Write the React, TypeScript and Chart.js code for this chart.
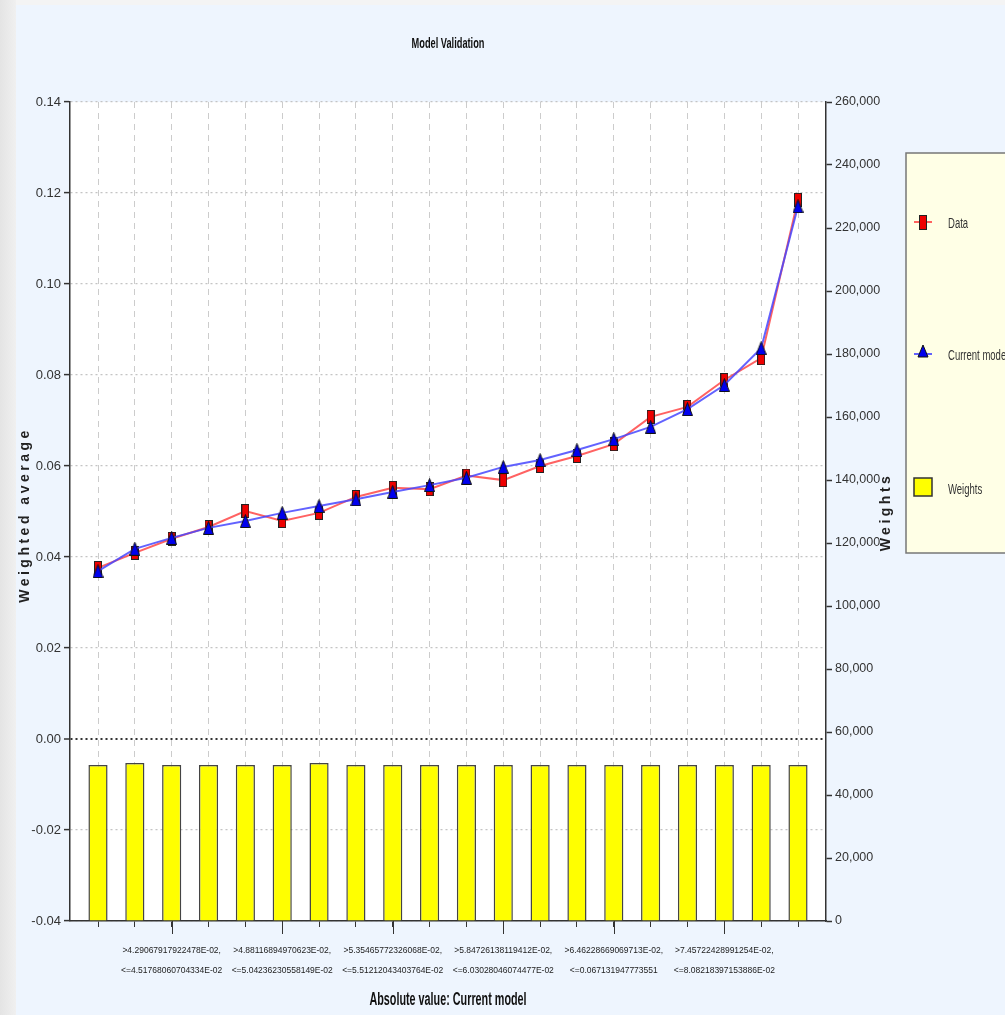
import React, { useEffect, useRef } from 'react';
import { Chart, registerables } from 'chart.js';

Chart.register(...registerables);

// ---------- data ----------
const CATEGORY_INDEX = [0, 1, 2, 3, 4, 5, 6, 7, 8, 9, 10, 11, 12, 13, 14, 15, 16, 17, 18, 19];
const DATA_VALUES = [0.0376, 0.0409, 0.044, 0.0466, 0.0501, 0.0479, 0.0497, 0.0532, 0.0552, 0.0549, 0.0579, 0.0569, 0.06, 0.0622, 0.0648, 0.0708, 0.073, 0.0789, 0.0837, 0.1185];
const MODEL_VALUES = [0.0369, 0.0418, 0.0442, 0.0464, 0.0479, 0.0497, 0.0512, 0.0527, 0.0543, 0.0558, 0.0574, 0.0598, 0.0613, 0.0635, 0.0659, 0.0686, 0.0725, 0.0778, 0.0859, 0.1171];
const WEIGHT_VALUES = [49500, 50150, 49500, 49500, 49500, 49500, 50150, 49500, 49500, 49500, 49500, 49500, 49500, 49500, 49500, 49500, 49500, 49500, 49500, 49500];
const LABEL_POSITIONS = [2, 5, 8, 11, 14, 17];
const LABEL_LINE1 = ['>4.29067917922478E-02,', '>4.88116894970623E-02,', '>5.35465772326068E-02,', '>5.84726138119412E-02,', '>6.46228669069713E-02,', '>7.45722428991254E-02,'];
const LABEL_LINE2 = ['<=4.51768060704334E-02', '<=5.04236230558149E-02', '<=5.51212043403764E-02', '<=6.03028046074477E-02', '<=0.067131947773551', '<=8.08218397153886E-02'];
const LEFT_MIN = -0.04;
const LEFT_MAX = 0.14;
const LEFT_STEP = 0.02;
const RIGHT_MIN = 0;
const RIGHT_MAX = 260000;
const RIGHT_STEP = 20000;
const SERIES_NAMES = ['Data', 'Current model', 'Weights'];
const TITLE = 'Model Validation';
const X_TITLE = 'Absolute value: Current model';
const Y_TITLE = 'Weighted average';
const Y2_TITLE = 'Weights';

const SANS = '"Liberation Sans", Arial, sans-serif';

function makeRectPoint(): HTMLCanvasElement {
  const c = document.createElement('canvas');
  c.width = 8;
  c.height = 14;
  const g = c.getContext('2d')!;
  g.fillStyle = '#ee0000';
  g.fillRect(0.5, 0.5, 7, 13);
  g.strokeStyle = '#222';
  g.lineWidth = 1;
  g.strokeRect(0.5, 0.5, 7, 13);
  return c;
}

function makeTriPoint(): HTMLCanvasElement {
  const c = document.createElement('canvas');
  c.width = 11;
  c.height = 14;
  const g = c.getContext('2d')!;
  g.beginPath();
  g.moveTo(5.5, 0.5);
  g.lineTo(10.5, 13.5);
  g.lineTo(0.5, 13.5);
  g.closePath();
  g.fillStyle = '#0000ee';
  g.fill();
  g.strokeStyle = '#111';
  g.lineWidth = 1;
  g.stroke();
  return c;
}

function narrowText(ctx: CanvasRenderingContext2D, text: string, x: number, y: number, sx: number, align: CanvasTextAlign) {
  ctx.save();
  ctx.translate(x, y);
  ctx.scale(sx, 1);
  ctx.textAlign = align;
  ctx.textBaseline = 'middle';
  ctx.fillText(text, 0, 0);
  ctx.restore();
}

const decorPlugin = {
  id: 'decor',
  beforeDraw(chart: any) {
    const { ctx, width, height, chartArea } = chart;
    ctx.save();
    ctx.fillStyle = '#eef5fe';
    ctx.fillRect(0, 0, width, height);
    const grad = ctx.createLinearGradient(0, 0, 16, 0);
    grad.addColorStop(0, '#e4e4e4');
    grad.addColorStop(1, '#f0f0f0');
    ctx.fillStyle = grad;
    ctx.fillRect(0, 0, 16, height);
    ctx.fillStyle = '#f4f4f4';
    ctx.fillRect(16, 0, width - 16, 5);
    ctx.fillStyle = '#ffffff';
    ctx.fillRect(chartArea.left, chartArea.top, chartArea.right - chartArea.left, chartArea.bottom - chartArea.top);
    ctx.restore();
  },
  afterDraw(chart: any) {
    const { ctx, chartArea, scales } = chart;
    ctx.save();
    // long ticks at labelled categories
    ctx.strokeStyle = '#333';
    ctx.lineWidth = 1;
    LABEL_POSITIONS.forEach((p) => {
      const x = Math.round(scales.x.getPixelForValue(p)) + 0.5;
      ctx.beginPath();
      ctx.moveTo(x, chartArea.bottom);
      ctx.lineTo(x, chartArea.bottom + 13);
      ctx.stroke();
    });
    // titles
    ctx.fillStyle = '#111';
    ctx.font = `bold 14px ${SANS}`;
    narrowText(ctx, TITLE, 448, 44, 0.66, 'center');
    ctx.font = `bold 18px ${SANS}`;
    narrowText(ctx, X_TITLE, 448, 1000, 0.6, 'center');
    ctx.font = `bold 14px ${SANS}`;
    ctx.textAlign = 'center';
    ctx.textBaseline = 'middle';
    (ctx as any).letterSpacing = '3.5px';
    ctx.save();
    ctx.translate(25, 515);
    ctx.rotate(-Math.PI / 2);
    ctx.fillStyle = '#222';
    ctx.fillText(Y_TITLE, 0, 0);
    ctx.restore();
    ctx.save();
    ctx.translate(886, 512);
    ctx.rotate(-Math.PI / 2);
    ctx.fillStyle = '#222';
    ctx.fillText(Y2_TITLE, 0, 0);
    ctx.restore();
    (ctx as any).letterSpacing = '0px';
    // legend
    ctx.fillStyle = '#ffffe6';
    ctx.fillRect(906, 153, 110, 400);
    ctx.strokeStyle = '#777';
    ctx.lineWidth = 1.5;
    ctx.strokeRect(906, 153, 110, 400);
    // Data item
    ctx.strokeStyle = 'rgba(255,70,70,0.85)';
    ctx.lineWidth = 2;
    ctx.beginPath();
    ctx.moveTo(914, 222);
    ctx.lineTo(932, 222);
    ctx.stroke();
    ctx.fillStyle = '#ee0000';
    ctx.fillRect(919, 215, 7, 14);
    ctx.strokeStyle = '#222';
    ctx.lineWidth = 1;
    ctx.strokeRect(919.5, 215.5, 7, 14);
    // Current model item
    ctx.strokeStyle = 'rgba(70,70,255,0.85)';
    ctx.lineWidth = 2;
    ctx.beginPath();
    ctx.moveTo(914, 354);
    ctx.lineTo(932, 354);
    ctx.stroke();
    ctx.beginPath();
    ctx.moveTo(923, 345);
    ctx.lineTo(928, 357);
    ctx.lineTo(918, 357);
    ctx.closePath();
    ctx.fillStyle = '#0000ee';
    ctx.fill();
    ctx.strokeStyle = '#111';
    ctx.lineWidth = 1;
    ctx.stroke();
    // Weights item
    ctx.fillStyle = '#ffff00';
    ctx.fillRect(914, 478, 18, 18);
    ctx.strokeStyle = '#333';
    ctx.lineWidth = 1.5;
    ctx.strokeRect(914, 478, 18, 18);
    ctx.fillStyle = '#333';
    ctx.font = `14px ${SANS}`;
    narrowText(ctx, SERIES_NAMES[0], 948, 224, 0.68, 'left');
    narrowText(ctx, SERIES_NAMES[1], 948, 356, 0.68, 'left');
    narrowText(ctx, SERIES_NAMES[2], 948, 490, 0.68, 'left');
    ctx.restore();
  },
};

export default function App() {
  const ref = useRef<HTMLCanvasElement | null>(null);

  useEffect(() => {
    document.body.style.margin = '0';
    document.body.style.overflow = 'hidden';
    const canvas = ref.current;
    if (!canvas) return;
    const rectPt = makeRectPoint();
    const triPt = makeTriPoint();

    const chart = new Chart(canvas, {
      type: 'bar',
      data: {
        datasets: [
          {
            type: 'line',
            label: SERIES_NAMES[1],
            data: CATEGORY_INDEX.map((i) => ({ x: i, y: MODEL_VALUES[i] })),
            yAxisID: 'y',
            xAxisID: 'x',
            borderColor: 'rgba(70,70,255,0.85)',
            borderWidth: 2,
            tension: 0,
            pointStyle: triPt as any,
            pointRadius: 6,
            order: 0,
          } as any,
          {
            type: 'line',
            label: SERIES_NAMES[0],
            data: CATEGORY_INDEX.map((i) => ({ x: i, y: DATA_VALUES[i] })),
            yAxisID: 'y',
            xAxisID: 'x',
            borderColor: 'rgba(255,70,70,0.85)',
            borderWidth: 2,
            tension: 0,
            pointStyle: rectPt as any,
            pointRadius: 6,
            order: 1,
          } as any,
          {
            type: 'bar',
            label: SERIES_NAMES[2],
            data: CATEGORY_INDEX.map((i) => ({ x: i, y: WEIGHT_VALUES[i] })),
            yAxisID: 'y2',
            xAxisID: 'x',
            backgroundColor: '#ffff00',
            borderColor: '#444',
            borderWidth: 1.5,
            barPercentage: 0.52,
            categoryPercentage: 1,
            order: 2,
          } as any,
        ],
      },
      options: {
        responsive: false,
        animation: false,
        events: [],
        layout: { padding: { top: 102, right: 100, left: 0, bottom: 0 } },
        plugins: {
          legend: { display: false },
          tooltip: { enabled: false },
          title: { display: false },
        },
        scales: {
          x: {
            type: 'linear',
            min: -0.76,
            max: 19.76,
            offset: false,
            afterBuildTicks: (scale: any) => {
              scale.ticks = CATEGORY_INDEX.map((v) => ({ value: v }));
            },
            afterFit: (scale: any) => {
              scale.height = 94;
            },
            grid: {
              offset: false,
              color: '#cccccc',
              lineWidth: 1,
              drawTicks: true,
              tickLength: 6,
              tickColor: '#333',
              tickWidth: 1,
              tickBorderDash: [],
            },
            border: { display: true, color: '#333', width: 1.5, dash: [6, 5] },
            ticks: {
              autoSkip: false,
              maxRotation: 0,
              minRotation: 0,
              padding: 14,
              color: '#222',
              font: { family: SANS, size: 8.5, lineHeight: 2.35 },
              callback: (v: any) => {
                const k = LABEL_POSITIONS.indexOf(Math.round(Number(v)));
                return k >= 0 ? [LABEL_LINE1[k], LABEL_LINE2[k]] : '';
              },
            },
          },
          y: {
            type: 'linear',
            position: 'left',
            min: LEFT_MIN,
            max: LEFT_MAX,
            afterFit: (scale: any) => {
              scale.width = 70;
            },
            afterBuildTicks: (scale: any) => {
              const t = [];
              for (let v = LEFT_MIN; v <= LEFT_MAX + 1e-9; v += LEFT_STEP) t.push({ value: Math.round(v * 100) / 100 });
              scale.ticks = t;
            },
            grid: {
              color: (c: any) => (c.tick && Math.abs(c.tick.value) < 1e-9 ? '#333' : '#c4c4c4'),
              lineWidth: (c: any) => (c.tick && Math.abs(c.tick.value) < 1e-9 ? 2 : 1.2),
              drawTicks: true,
              tickLength: 6,
              tickColor: '#333',
              tickWidth: 1.5,
              tickBorderDash: [],
            },
            border: { display: true, color: '#333', width: 1.5, dash: [2, 3] },
            ticks: {
              padding: 3,
              color: '#333',
              font: { family: SANS, size: 13 },
              callback: (v: any) => Number(v).toFixed(2),
            },
          },
          y2: {
            type: 'linear',
            position: 'right',
            min: RIGHT_MIN,
            max: RIGHT_MAX,
            afterFit: (scale: any) => {
              scale.width = 79;
            },
            afterBuildTicks: (scale: any) => {
              const t = [];
              for (let v = RIGHT_MIN; v <= RIGHT_MAX; v += RIGHT_STEP) t.push({ value: v });
              scale.ticks = t;
            },
            grid: {
              drawOnChartArea: false,
              drawTicks: true,
              tickLength: 6,
              tickColor: '#333',
              tickWidth: 1.5,
            },
            border: { display: true, color: '#333', width: 1.5 },
            ticks: {
              padding: 3,
              color: '#333',
              font: { family: SANS, size: 12.5 },
              callback: (v: any) => Number(v).toLocaleString('en-US'),
            },
          },
        },
      } as any,
      plugins: [decorPlugin],
    });

    return () => {
      chart.destroy();
    };
  }, []);

  return (
    <canvas
      ref={ref}
      width={1005}
      height={1015}
      style={{ position: 'absolute', left: 0, top: 0, width: '1005px', height: '1015px' }}
    />
  );
}
